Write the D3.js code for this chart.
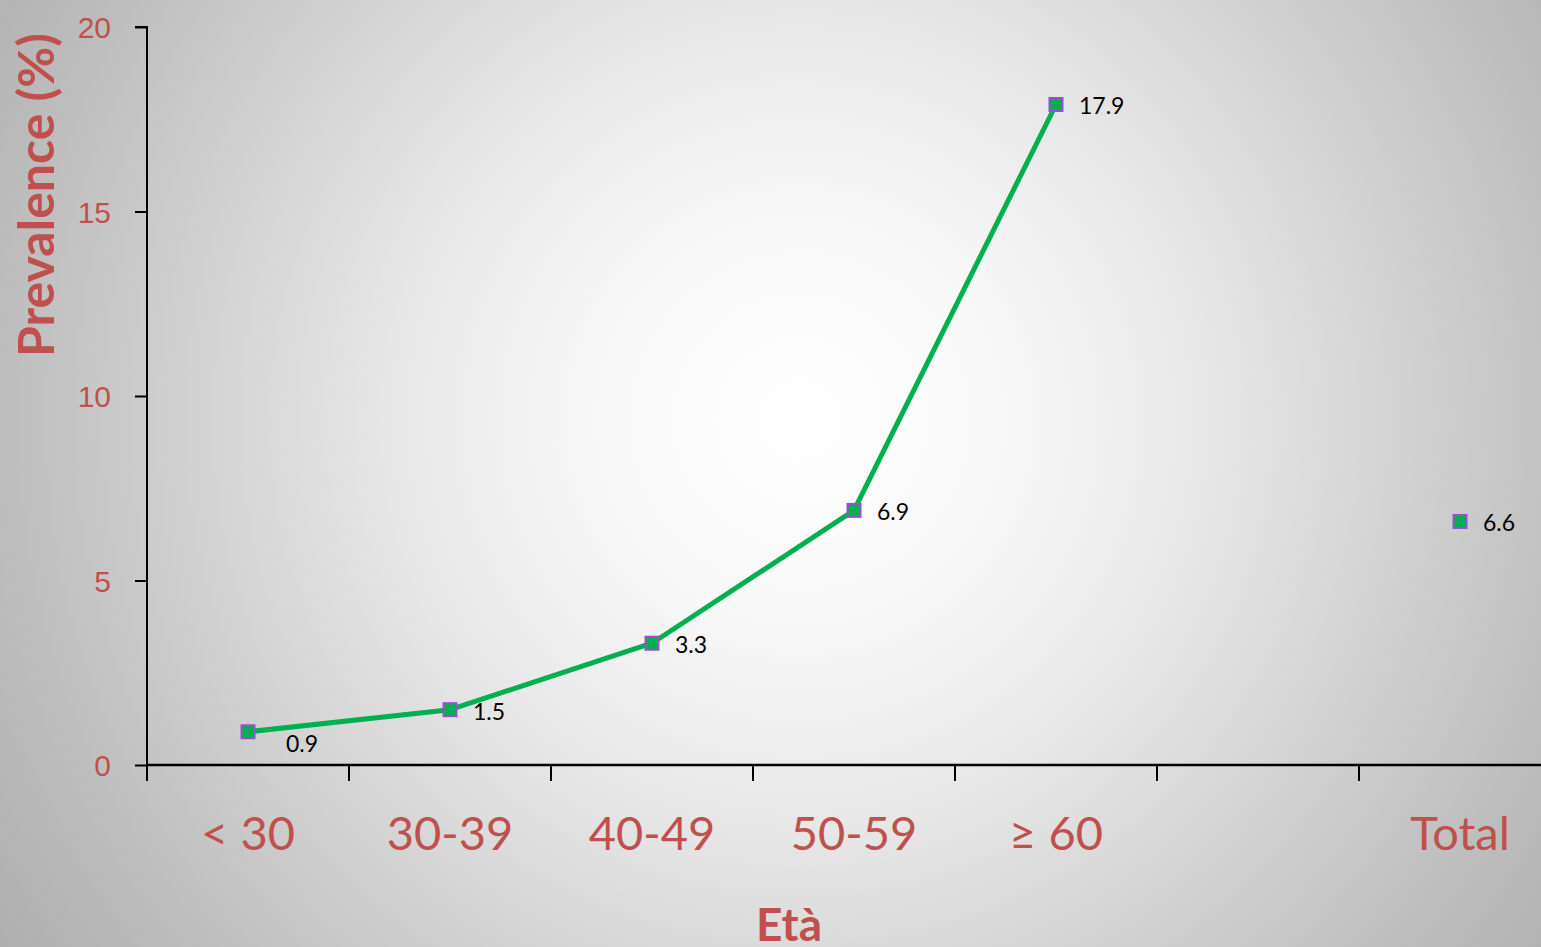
<!DOCTYPE html>
<html>
<head>
<meta charset="utf-8">
<script src="https://cdn.jsdelivr.net/npm/d3@7"></script>
<style>
  html, body { margin: 0; padding: 0; overflow: hidden; }
  svg { display: block; font-family: Lato, "Open Sans", sans-serif; }
</style>
</head>
<body>
<div id="chart"></div>
<script>
// data
const categories = ["< 30", "30-39", "40-49", "50-59", "≥ 60", "", "Total"];
const ageGroups = ["< 30", "30-39", "40-49", "50-59", "≥ 60"];
const prevalence = [0.9, 1.5, 3.3, 6.9, 17.9];
const totalValue = 6.6;
const yTicks = [0, 5, 10, 15, 20];

const width = 1541, height = 947;
const red = "#c0504d";
const green = "#00b050";
const purple = "#9b4fd0";

const svg = d3.select("#chart").append("svg")
  .attr("width", width)
  .attr("height", height);

// slide background
const grad = svg.append("defs").append("radialGradient")
  .attr("id", "bg")
  .attr("gradientUnits", "userSpaceOnUse")
  .attr("cx", 800).attr("cy", 420).attr("r", 1000);
[[0, "#ffffff"], [0.2, "#f8f8f8"], [0.4, "#e8e8e8"], [0.8, "#bdbdbd"], [1, "#ababab"]]
  .forEach(([o, c]) => grad.append("stop").attr("offset", o).attr("stop-color", c));

svg.append("rect")
  .attr("width", width).attr("height", height)
  .attr("fill", "url(#bg)");

const x = d3.scaleBand()
  .domain(categories.map((d, i) => i))
  .range([147, 147 + 7 * 202]);

const y = d3.scaleLinear()
  .domain([0, 20])
  .range([765, 27]);

const cx = i => x(i) + x.bandwidth() / 2;

// y axis
const yAxis = svg.append("g")
  .attr("transform", "translate(147,0)")
  .call(d3.axisLeft(y).tickValues(yTicks).tickSize(12).tickPadding(24));
yAxis.select(".domain").attr("stroke", "#000").attr("stroke-width", 2).attr("d", "M-12,27H0V765");
yAxis.selectAll(".tick line").attr("stroke", "#000").attr("stroke-width", 2);
yAxis.selectAll(".tick text")
  .attr("fill", red)
  .style("font-size", "30px")
  .attr("dy", "0.35em");

// x axis
const xAxisG = svg.append("g").attr("transform", "translate(0,765)");
xAxisG.append("line")
  .attr("x1", 147).attr("x2", width)
  .attr("stroke", "#000").attr("stroke-width", 2.5);
xAxisG.selectAll(".xtick")
  .data(d3.range(categories.length))
  .join("line")
  .attr("x1", i => x(i)).attr("x2", i => x(i))
  .attr("y1", 0).attr("y2", 16)
  .attr("stroke", "#000").attr("stroke-width", 2);
xAxisG.selectAll(".xlabel")
  .data(categories)
  .join("text")
  .attr("x", (d, i) => cx(i))
  .attr("y", 85)
  .attr("text-anchor", "middle")
  .attr("fill", red)
  .style("font-size", "47px")
  .text(d => d);

// axis titles
svg.append("text")
  .attr("transform", "translate(54,195) rotate(-90)")
  .attr("text-anchor", "middle")
  .attr("fill", red)
  .style("font-size", "50px")
  .style("font-weight", "700")
  .text("Prevalence (%)");

svg.append("text")
  .attr("x", 789).attr("y", 941)
  .attr("text-anchor", "middle")
  .attr("fill", red)
  .style("font-size", "46px")
  .style("font-weight", "700")
  .text("Età");

// line
const line = d3.line()
  .x((d, i) => cx(i))
  .y(d => y(d));

svg.append("path")
  .datum(prevalence)
  .attr("fill", "none")
  .attr("stroke", green)
  .attr("stroke-width", 5)
  .attr("stroke-linejoin", "round")
  .attr("d", line);

const points = prevalence.map((v, i) => ({ v, i }));
points.push({ v: totalValue, i: categories.indexOf("Total") });

svg.selectAll(".marker")
  .data(points)
  .join("rect")
  .attr("x", d => cx(d.i) - 6.5)
  .attr("y", d => y(d.v) - 6.5)
  .attr("width", 13).attr("height", 13)
  .attr("fill", green)
  .attr("stroke", purple)
  .attr("stroke-width", 2);

svg.selectAll(".vlabel")
  .data(points)
  .join("text")
  .attr("x", d => cx(d.i) + (d.i === 0 ? 38 : 23))
  .attr("y", d => y(d.v) + (d.i === 0 ? 20 : 10))
  .attr("fill", "#000")
  .style("font-size", "23px")
  .text(d => d.v.toFixed(1));
</script>
</body>
</html>
